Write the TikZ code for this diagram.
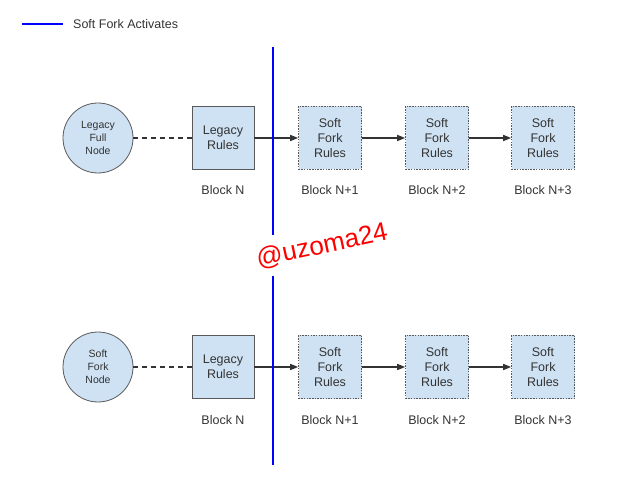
\documentclass[tikz,border=0pt]{standalone}
\usepackage{fontspec}
\setmainfont{Liberation Sans}
\usetikzlibrary{arrows.meta}
\definecolor{boxfill}{HTML}{CFE2F3}
\definecolor{boxdraw}{HTML}{595959}
\definecolor{txt}{HTML}{333333}
\definecolor{conn}{HTML}{333333}
\begin{document}
\begin{tikzpicture}[x=1pt,y=-1pt,
  every node/.style={text=txt, font=\fontsize{12.5}{15}\selectfont, align=center, inner sep=0pt},
  legacybox/.style={draw=boxdraw, fill=boxfill, line width=0.8pt, minimum width=62pt, minimum height=63pt},
  softbox/.style={draw=boxdraw, fill=boxfill, line width=0.6pt, dash pattern=on 1.5pt off 1.2pt, minimum width=63pt, minimum height=63pt},
  nodecirc/.style={draw=boxdraw, fill=boxfill, circle, line width=0.8pt, minimum size=70pt, font=\fontsize{10.5}{13}\selectfont},
  blocklabel/.style={font=\fontsize{12.5}{14}\selectfont},
  chain/.style={draw=conn, line width=1.4pt, -{Triangle[length=8pt,width=6pt]}},
  dashconn/.style={draw=conn, line width=1.4pt, dash pattern=on 5pt off 4pt},
  fork/.style={draw={rgb,255:red,0;green,0;blue,255}, line width=2.6pt}
]
\useasboundingbox (0,0) rectangle (640,478);
% legend
\coordinate (lg1) at (22,24);
\coordinate (lg2) at (63,24);
\draw[fork] (lg1) -- (lg2);
\node[anchor=west] (legend) at (73,24) {Soft Fork Activates};
% fork line
\coordinate (f1) at (273,47);
\coordinate (f2) at (273,235);
\coordinate (f3) at (273,276);
\coordinate (f4) at (273,465);

% top row
\node[nodecirc] (c1) at (98,138) {Legacy\\Full\\Node};
\node[legacybox] (l1) at (223,138) {Legacy\\Rules};
\node[softbox] (s11) at (330,138) {Soft\\Fork\\Rules};
\node[softbox] (s12) at (437,138) {Soft\\Fork\\Rules};
\node[softbox] (s13) at (543,138) {Soft\\Fork\\Rules};
\node[blocklabel] (b10) at (223,190) {Block N};
\node[blocklabel] (b11) at (330,190) {Block N+1};
\node[blocklabel] (b12) at (437,190) {Block N+2};
\node[blocklabel] (b13) at (543,190) {Block N+3};
\draw[dashconn] (c1) -- (l1);
\draw[chain] (l1) -- (s11);
\draw[chain] (s11) -- (s12);
\draw[chain] (s12) -- (s13);

% bottom row
\node[nodecirc] (c2) at (98,367) {Soft\\Fork\\Node};
\node[legacybox] (l2) at (223,367) {Legacy\\Rules};
\node[softbox] (s21) at (330,367) {Soft\\Fork\\Rules};
\node[softbox] (s22) at (437,367) {Soft\\Fork\\Rules};
\node[softbox] (s23) at (543,367) {Soft\\Fork\\Rules};
\node[blocklabel] (b20) at (223,420) {Block N};
\node[blocklabel] (b21) at (330,420) {Block N+1};
\node[blocklabel] (b22) at (437,420) {Block N+2};
\node[blocklabel] (b23) at (543,420) {Block N+3};
\draw[dashconn] (c2) -- (l2);
\draw[chain] (l2) -- (s21);
\draw[chain] (s21) -- (s22);
\draw[chain] (s22) -- (s23);

\draw[fork] (f1) -- (f2);
\draw[fork] (f3) -- (f4);

% watermark
\node[text=red, font=\fontsize{26}{28}\selectfont, rotate=12] (wm) at (322,246) {@uzoma24};
\end{tikzpicture}
\end{document}
